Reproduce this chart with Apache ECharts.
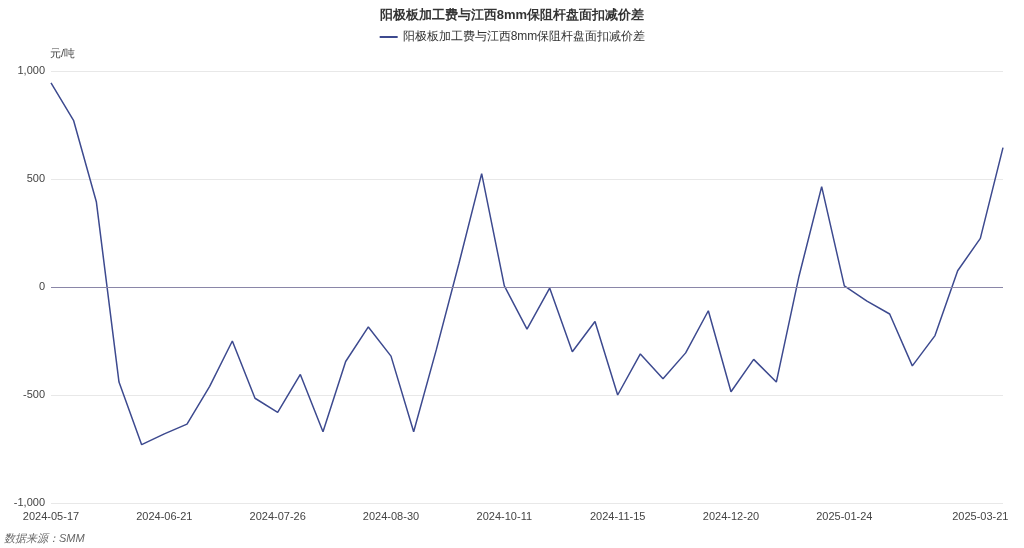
<!DOCTYPE html>
<html><head><meta charset="utf-8">
<script src="https://cdn.jsdelivr.net/npm/echarts@6/dist/echarts.min.js"></script>
<style>html,body{margin:0;padding:0;background:#fff}#c{width:1024px;height:548px}</style>
</head><body><div id="c"></div>
<script>
const dates = ['2024-05-17','2024-05-24','2024-05-31','2024-06-07','2024-06-14','2024-06-21','2024-06-28','2024-07-05','2024-07-12','2024-07-19','2024-07-26','2024-08-02','2024-08-09','2024-08-16','2024-08-23','2024-08-30','2024-09-06','2024-09-13','2024-09-20','2024-09-27','2024-10-11','2024-10-18','2024-10-25','2024-11-01','2024-11-08','2024-11-15','2024-11-22','2024-11-29','2024-12-06','2024-12-13','2024-12-20','2024-12-27','2025-01-03','2025-01-10','2025-01-17','2025-01-24','2025-02-07','2025-02-14','2025-02-21','2025-02-28','2025-03-07','2025-03-21','2025-03-28'];
const values = [945,770,395,-440,-730,-680,-635,-460,-250,-515,-580,-405,-670,-345,-185,-320,-670,-290,110,525,5,-195,-5,-300,-160,-500,-310,-425,-305,-110,-485,-335,-440,50,465,5,-65,-125,-365,-225,75,225,645];
const seriesName = '阳极板加工费与江西8mm保阻杆盘面扣减价差';
const labelIdx = [0,5,10,15,20,25,30,35,41];
const chart = echarts.init(document.getElementById('c'));
chart.setOption({
  title:{text:seriesName,left:'center',top:4,textStyle:{fontSize:13,fontWeight:'bold',color:'#333'}},
  legend:{top:26,itemWidth:18,itemHeight:2,textStyle:{fontSize:12,color:'#333'},data:[seriesName]},
  grid:{left:51,right:21,top:71,bottom:45},
  graphic:[{type:'text',left:4,bottom:4,style:{text:'数据来源：SMM',fontSize:11,fontStyle:'italic',fill:'#666'}}],
  xAxis:{type:'category',data:dates,boundaryGap:false,
    axisLine:{show:false,onZero:false},axisTick:{show:false},
    axisLabel:{interval:(i)=>labelIdx.includes(i),color:'#444',fontSize:11,margin:8}},
  yAxis:{type:'value',min:-1000,max:1000,interval:500,name:'元/吨',nameLocation:'end',nameGap:12,
    nameTextStyle:{color:'#444',fontSize:11,align:'right',padding:[0,-24,0,0]},
    axisLabel:{color:'#444',fontSize:11,margin:6},splitLine:{lineStyle:{color:'#e8e8e8'}},axisLine:{show:false}},
  series:[{name:seriesName,type:'line',data:values,symbol:'none',lineStyle:{color:'#3d4a8f',width:1.5},itemStyle:{color:'#3d4a8f'},
    markLine:{silent:true,symbol:'none',label:{show:false},lineStyle:{color:'#8a86a8',type:'solid',width:1},data:[{yAxis:0}]}}]
});
</script></body></html>
